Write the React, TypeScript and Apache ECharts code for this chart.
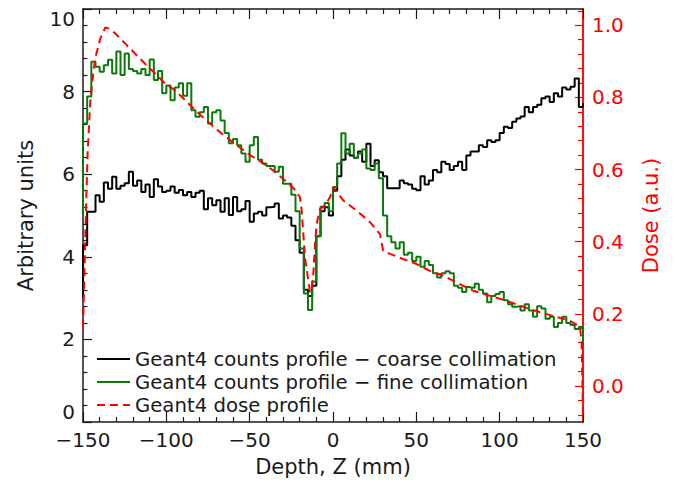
import React, { useEffect, useRef } from "react";
import * as echarts from "echarts";

// ---- data ----
const BIN_START = -150; // mm, left edge of the first bin
const BIN_WIDTH = 2.5; // mm

// Geant4 counts profile – coarse collimation (per 2.5 mm bin, arbitrary units)
const coarseCounts = [
  4.28, 5.09, 5.09, 5.49, 5.33, 5.8, 5.65, 5.94, 5.65, 5.72,
  5.78, 6.06, 5.72, 5.85, 5.57, 5.75, 5.45, 5.88, 5.7, 5.57,
  5.6, 5.7, 5.55, 5.62, 5.49, 5.57, 5.45, 5.55, 5.6, 5.15,
  5.42, 5.25, 5.37, 5.09, 5.42, 5.01, 5.45, 5.1, 5.15, 5.35,
  4.85, 5.05, 5.09, 5.0, 5.2, 5.21, 5.29, 4.93, 5.0, 4.95,
  4.75, 4.4, 4.1, 3.2, 3.05, 3.3, 4.5, 5.1, 5.2, 5.0,
  5.6, 5.95, 6.35, 6.6, 6.45, 6.4, 6.55, 6.3, 6.74, 6.2,
  6.34, 6.05, 5.95, 5.66, 5.66, 5.66, 5.85, 5.78, 5.75, 5.65,
  5.61, 5.95, 5.75, 5.85, 6.1, 6.05, 6.3, 6.25, 6.1, 6.2,
  6.3, 6.1, 6.45, 6.55, 6.55, 6.7, 6.66, 6.82, 6.78, 6.82,
  7.0, 7.15, 7.12, 7.27, 7.35, 7.4, 7.63, 7.5, 7.63, 7.68,
  7.84, 7.88, 7.75, 7.96, 7.88, 8.1, 8.05, 8.12, 8.32, 7.63,
];
const coarseEdgeStart = 3.0;
const coarseEdgeEnd = 7.72;

// Geant4 counts profile – fine collimation
const fineCounts = [
  7.23, 7.88, 8.72, 8.6, 8.48, 8.64, 8.77, 8.44, 8.97, 8.4,
  8.92, 8.55, 8.5, 8.44, 8.55, 8.4, 8.78, 8.28, 8.5, 7.96,
  8.15, 7.79, 8.1, 8.2, 7.9, 8.2, 7.55, 7.39, 7.5, 7.63,
  7.23, 7.5, 7.55, 7.3, 7.0, 6.75, 6.85, 6.7, 6.5, 6.3,
  6.7, 6.9, 6.35, 6.26, 6.2, 6.2, 6.06, 6.18, 5.77, 5.77,
  5.5, 5.1, 4.2, 3.11, 2.71, 3.4, 4.5, 5.21, 5.3, 5.1,
  5.69, 6.26, 6.99, 6.5, 6.74, 6.4, 6.5, 6.6, 6.14, 6.1,
  6.26, 5.9, 5.0, 4.5, 4.35, 4.2, 4.35, 4.05, 4.1, 3.9,
  4.0, 3.76, 3.9, 3.8, 3.6, 3.5, 3.6, 3.65, 3.6, 3.3,
  3.25, 3.15, 3.27, 3.25, 3.35, 3.2, 3.11, 2.9, 3.05, 3.1,
  3.15, 2.95, 2.85, 2.79, 2.8, 2.7, 2.85, 2.7, 2.55, 2.8,
  2.75, 2.5, 2.55, 2.3, 2.4, 2.55, 2.4, 2.35, 2.25, 2.3,
];
const fineEdgeStart = 5.0;
const fineEdgeEnd = 1.86;

// Geant4 dose profile (right axis)
const doseDepth = [
  -150, -149.2, -148.6, -147.2, -145.6, -144, -142.6, -139.6, -136.6, -134,
  -130.6, -124.6, -118.7, -112.7, -106.7, -100.7, -94.6, -88.7, -82.6, -74.7,
  -66.7, -58.7, -50.8, -42.7, -36.7, -29.8, -23.8, -19.8, -18.8, -17.8,
  -16.8, -14.8, -13.8, -12.8, -11.8, -10.8, -9.8, -7.8, -4.8, -1.8,
  0.2, 6.2, 14.2, 22.2, 28.2, 30.1, 34.2, 42.1, 50.2, 58.1,
  66.1, 74.1, 84.1, 94, 104.1, 118.1, 132, 142, 146, 148.2,
  149.2, 149.7, 150,
];
const doseValue = [
  0.16, 0.3, 0.42, 0.65, 0.79, 0.86, 0.91, 0.963, 0.994, 0.99,
  0.977, 0.949, 0.921, 0.893, 0.866, 0.838, 0.819, 0.792, 0.764, 0.731,
  0.699, 0.671, 0.643, 0.62, 0.6, 0.574, 0.549, 0.523, 0.486, 0.421,
  0.356, 0.292, 0.259, 0.27, 0.31, 0.394, 0.449, 0.491, 0.5, 0.523,
  0.551, 0.514, 0.486, 0.454, 0.421, 0.375, 0.366, 0.352, 0.338, 0.319,
  0.306, 0.287, 0.264, 0.25, 0.236, 0.213, 0.194, 0.181, 0.17, 0.162,
  0.12, 0.0, -0.09,
];

// axis ticks
const doseMajorTicks = [0, 0.2, 0.4, 0.6, 0.8, 1.0];
const doseMinorTicks = [
  -0.08, -0.04, 0.04, 0.08, 0.12, 0.16, 0.24, 0.28, 0.32, 0.36,
  0.44, 0.48, 0.52, 0.56, 0.64, 0.68, 0.72, 0.76, 0.84, 0.88,
  0.92, 0.96, 1.04,
];

const seriesNames = [
  "Geant4 counts profile \u2212 coarse collimation",
  "Geant4 counts profile \u2212 fine collimation",
  "Geant4 dose profile",
];

const FONT = "DejaVu Sans";
const FW = "normal";
const INK = "#1a1a1a";
const GREEN = "#0b7a0b";
const RED = "#ff0000";

function stepData(start: number, counts: number[], end: number) {
  const pts: number[][] = [[BIN_START, start]];
  counts.forEach((v, i) => pts.push([BIN_START + i * BIN_WIDTH, v]));
  pts.push([BIN_START + counts.length * BIN_WIDTH, end]);
  return pts;
}

const minusFmt = (v: number) => String(v).replace("-", "\u2212");

export default function App() {
  const ref = useRef<HTMLDivElement>(null);

  useEffect(() => {
    if (!ref.current) return;
    const chart = echarts.init(ref.current, undefined, { renderer: "svg" });

    const xCommon = {
      type: "value",
      min: -150,
      max: 150,
      interval: 50,
      axisLine: { show: true, onZero: false, lineStyle: { color: INK, width: 1.5 } },
      axisTick: { show: true, inside: true, length: 10, lineStyle: { color: INK, width: 1.2 } },
      minorTick: { show: true, splitNumber: 5, length: 5, lineStyle: { color: INK, width: 1.2 } },
      splitLine: { show: false },
      minorSplitLine: { show: false },
    };

    const option: any = {
      animation: false,
      backgroundColor: "#ffffff",
      textStyle: { fontFamily: FONT, fontWeight: FW },
      grid: { left: 83, right: 91, top: 9, bottom: 65, containLabel: false },
      legend: {
        orient: "vertical",
        left: 96,
        top: 349,
        padding: 0,
        itemWidth: 33,
        itemHeight: 10,
        itemGap: 3,
        data: seriesNames,
        itemStyle: { opacity: 0 },
        textStyle: { fontFamily: FONT, fontWeight: FW, fontSize: 19.7, color: INK, lineHeight: 20 },
      },
      xAxis: [
        {
          ...xCommon,
          position: "bottom",
          name: "Depth, Z (mm)",
          nameLocation: "middle",
          nameGap: 34,
          nameTextStyle: { fontFamily: FONT, fontWeight: FW, fontSize: 21, color: INK },
          axisLabel: { fontFamily: FONT, fontWeight: FW, fontSize: 20, color: INK, margin: 8, formatter: minusFmt },
        },
        {
          ...xCommon,
          position: "top",
          axisLabel: { show: false },
        },
      ],
      yAxis: [
        {
          type: "value",
          position: "left",
          min: 0,
          max: 10,
          interval: 2,
          name: "Arbitrary units",
          nameLocation: "middle",
          nameRotate: 90,
          nameGap: 47,
          nameTextStyle: { fontFamily: FONT, fontWeight: FW, fontSize: 21, color: INK },
          axisLine: { show: true, onZero: false, lineStyle: { color: INK, width: 1.5 } },
          axisTick: { show: true, inside: true, length: 9, lineStyle: { color: INK, width: 1.2 } },
          minorTick: { show: true, splitNumber: 5, length: 4.5, lineStyle: { color: INK, width: 1.2 } },
          axisLabel: {
            fontFamily: FONT,
            fontWeight: FW,
            fontSize: 20,
            color: INK,
            margin: 8,
            verticalAlignMinLabel: "bottom",
            verticalAlignMaxLabel: "top",
          },
          splitLine: { show: false },
          minorSplitLine: { show: false },
        },
        {
          type: "value",
          position: "right",
          min: -0.1,
          max: 1.045,
          name: "Dose (a.u.)",
          nameLocation: "middle",
          nameRotate: 90,
          nameGap: 57,
          nameTextStyle: { fontFamily: FONT, fontWeight: FW, fontSize: 21, color: RED },
          axisLine: { show: true, onZero: false, lineStyle: { color: RED, width: 1.5 } },
          axisTick: {
            show: true,
            inside: true,
            length: 8,
            customValues: doseMajorTicks,
            lineStyle: { color: RED, width: 1.2 },
          },
          axisLabel: {
            fontFamily: FONT,
            fontWeight: FW,
            fontSize: 20,
            color: RED,
            margin: 9,
            customValues: doseMajorTicks,
            formatter: (v: number) => v.toFixed(1),
          },
          splitLine: { show: false },
        },
        {
          type: "value",
          position: "right",
          min: -0.1,
          max: 1.045,
          axisLine: { show: true, onZero: false, lineStyle: { color: RED, width: 1.5 } },
          axisTick: {
            show: true,
            inside: true,
            length: 5,
            customValues: doseMinorTicks,
            lineStyle: { color: RED, width: 1.2 },
          },
          axisLabel: { show: false },
          splitLine: { show: false },
        },
      ],
      series: [
        {
          name: seriesNames[0],
          type: "line",
          xAxisIndex: 0,
          yAxisIndex: 0,
          step: "end",
          symbol: "none",
          data: stepData(coarseEdgeStart, coarseCounts, coarseEdgeEnd),
          lineStyle: { color: "#000000", width: 2 },
          itemStyle: { color: "#000000" },
        },
        {
          name: seriesNames[1],
          type: "line",
          xAxisIndex: 0,
          yAxisIndex: 0,
          step: "end",
          symbol: "none",
          data: stepData(fineEdgeStart, fineCounts, fineEdgeEnd),
          lineStyle: { color: GREEN, width: 2 },
          itemStyle: { color: GREEN },
        },
        {
          name: seriesNames[2],
          type: "line",
          xAxisIndex: 0,
          yAxisIndex: 1,
          symbol: "none",
          data: doseDepth.map((z, i) => [z, doseValue[i]]),
          lineStyle: { color: RED, width: 2, type: [8, 5] },
          itemStyle: { color: RED },
        },
      ],
    };

    chart.setOption(option);
    return () => chart.dispose();
  }, []);

  return (
    <div
      ref={ref}
      style={{ position: "absolute", left: 0, top: 0, width: 674, height: 487 }}
    />
  );
}
